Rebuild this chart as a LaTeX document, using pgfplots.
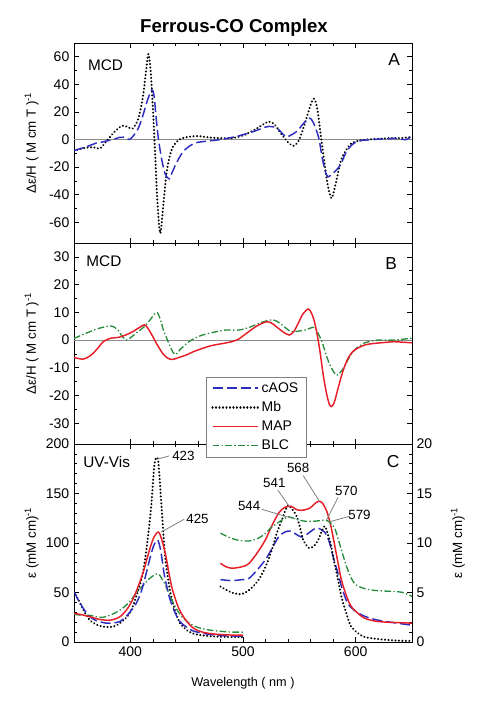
\documentclass[border=0pt]{standalone}
\usepackage{fontspec}
\setmainfont{Liberation Sans}
\usepackage{pgfplots}
\pgfplotsset{compat=1.18}
\definecolor{caos}{RGB}{45,45,190}
\definecolor{mapc}{RGB}{230,30,40}
\definecolor{blc}{RGB}{40,140,60}
\definecolor{zl}{RGB}{140,140,140}
\pgfplotsset{
  panel/.style={scale only axis, width=253.5pt, xmin=350, xmax=650,
    xtick={400,500,600}, minor x tick num=4,
    tick style={black, line width=0.5pt}, major tick length=4pt, minor tick length=2.5pt,
    /pgf/number format/assume math mode=true,
    tick label style={font=\fontsize{10.5}{12}\selectfont},
    label style={font=\fontsize{9.5}{11}\selectfont},
    axis line style={line width=0.6pt},
    every axis y label/.style={at={(axis description cs:-0.125,0.5)},rotate=90,anchor=center},
  },
}
\tikzset{
  caosS/.style={caos, line width=1.1pt, dash pattern=on 7.5pt off 3pt, smooth},
  mbS/.style={black, line width=1.7pt, dash pattern=on 0.01pt off 2.6pt, line cap=round, smooth},
  mapS/.style={mapc, line width=1.1pt, smooth},
  blcS/.style={blc, line width=1pt, dash pattern=on 5pt off 1.8pt on 1pt off 1.8pt, smooth},
  ann/.style={font=\fontsize{10}{12}\selectfont, inner sep=0pt},
  annl/.style={gray, line width=0.6pt},
  plab/.style={font=\fontsize{11.5}{13}\selectfont, inner sep=0pt},
  pletter/.style={font=\fontsize{13}{15}\selectfont, inner sep=0pt},
}
\begin{document}
\begin{tikzpicture}
\useasboundingbox (0,0) rectangle (358.5pt,528pt);
\node[font=\bfseries\fontsize{14}{16}\selectfont] at (175.5pt,507.5pt) {Ferrous-CO Complex};
% ---------------- Panel A
\begin{axis}[panel, at={(55.5pt,345.75pt)}, anchor=south west, height=150pt,
  ymin=-75, ymax=70, ytick={-60,-40,-20,0,20,40,60}, minor y tick num=1,
  xticklabel=\empty,
  ylabel={Δε/H ( M cm T )\textsuperscript{-1}}]
\addplot[zl, line width=0.6pt] coordinates {(350,0) (650,0)};
\addplot[mbS] coordinates {
(350,-8) (360,-6) (367,-5.5) (373,-6.5) (380,0) (387,6.5) (393,10) (398,9) (402,8)
(407,15) (411,30) (414,50) (416,62) (418,50) (420,23) (422,-10) (424,-45) (426.5,-68)
(429,-50) (432,-25) (435,-12) (438,-5) (442,-1) (446,1) (452,2) (460,2.5) (470,1.5)
(480,1) (490,1) (500,3) (510,7) (518,11) (523,13) (528,11) (534,4) (540,-2) (545,-4.5)
(550,0) (555,12) (560,25) (563,29.6) (566,22) (569.5,0) (572,-15) (575,-32) (578.5,-42.5)
(582,-33) (587,-15) (592,-7) (596,-3) (602,-1) (610,0) (620,0.5) (630,1) (640,1) (650,2)};
\addplot[caosS] coordinates {
(350,-8) (358,-6) (365,-4) (370,-2.5) (374,-2) (379,-1) (385,0) (390,1.5) (394,1.7)
(399,0) (403,3) (407,8) (411,17) (415,28) (419,36) (421,32) (423,15) (425,0) (428,-15)
(431,-25) (434.5,-28.5) (437,-24) (440.5,-17.7) (445,-11) (449,-7) (455,-3.5) (460,-2)
(470,-1) (480,0) (490,1.5) (500,3.5) (510,6) (518,8.5) (523,9.5) (528,9) (532,7)
(538,2) (542,3) (548,6) (553,11) (558.8,15.5) (562,13) (565,7) (567.6,0) (570,-12)
(573,-23) (575.5,-27) (579,-25) (583,-22) (587,-17.7) (591,-10) (596,-4.4) (600,-2)
(605,-0.7) (615,0) (625,0.5) (635,0.8) (645,0) (650,3)};
\node[plab, anchor=west] at (axis description cs:0.041,0.89) {MCD};
\node[pletter] at (axis description cs:0.947,0.915) {A};
\end{axis}
% ---------------- Panel B
\begin{axis}[panel, at={(55.5pt,195pt)}, anchor=south west, height=150.75pt,
  ymin=-37.5, ymax=35, ytick={-30,-20,-10,0,10,20,30}, minor y tick num=1,
  xticklabel=\empty,
  ylabel={Δε/H ( M cm T )\textsuperscript{-1}}]
\addplot[zl, line width=0.6pt] coordinates {(350,0) (650,0)};
\addplot[blcS] coordinates {
(350,0.6) (357,1.8) (364,3) (372,4.2) (381.7,5.1) (386,4.6) (389,3.6) (393,1.2) (396.4,0)
(400,0.8) (405,2.4) (410,4) (414,5.5) (418,7.5) (421,9.2) (424,9.9) (427,7) (429,4)
(431.7,1.2) (435,-2) (438,-4.5) (440.5,-5.2) (444,-3.5) (448,-2) (452,-0.6) (458,0.8)
(464,1.8) (474,2.8) (484.5,3.6) (496,3.6) (505,4.5) (514,6) (520,6.8) (525.6,7.3)
(530,6.8) (534.4,5.5) (539,4) (543,3) (549,3.2) (555,3.6) (562,4.6) (564.5,4.3)
(566.7,2.4) (569.6,0) (572,-3) (575.5,-7.3) (579,-10.5) (583,-12.7) (586,-11.8)
(590,-9.7) (594,-6.5) (599,-3.6) (604,-2) (608,-1) (614,-0.4) (619.6,0) (635,0) (648,0.6) (650,0.5)};
\addplot[mapS] coordinates {
(350,-6.3) (358,-6.9) (363,-6) (367,-4.8) (372,-2.5) (376,-0.6) (382,0.6) (390,1) (397,2)
(402,3) (408,4.5) (412.6,5.5) (416,4) (420,1.2) (424,-1.8) (428.7,-4.8) (433,-6.5)
(437.5,-7) (443,-6.3) (449,-5.5) (456,-4.2) (464,-3) (472,-2) (478.6,-1.5) (490,-0.6)
(496,0.3) (500,1.5) (505,3) (512,5) (520,6.5) (525,6.2) (531.5,4.2) (536,2.8) (541,1.8)
(545,3) (549,6) (553,9.3) (558,11.2) (561,9.5) (563.8,6) (566.7,0) (569,-6) (571,-12)
(574,-19) (576.5,-23) (578.5,-24) (581,-22.5) (584,-18) (587,-13.5) (590,-9.7) (594,-6)
(599,-3.6) (608,-1.8) (615,-1.3) (622.5,-1) (634,-0.6) (642,-0.8) (650,-1)};
\node[plab, anchor=west] at (axis description cs:0.036,0.907) {MCD};
\node[pletter] at (axis description cs:0.938,0.90) {B};
\end{axis}
% ---------------- Panel C (left axis)
\begin{axis}[panel, at={(55.5pt,46.5pt)}, anchor=south west, height=148.5pt,
  ymin=0, ymax=200, ytick={0,50,100,150,200}, minor y tick num=4, ytick pos=left,
  xlabel={Wavelength ( nm )},
  xlabel style={at={(axis description cs:0.5,-0.207)}, anchor=center},
  ylabel={ε (mM cm)\textsuperscript{-1}}]
\addplot[mbS] coordinates {
(350,51) (355,40) (360,29) (364,22) (370,17.5) (376,15.5) (384.6,15.5) (392,20) (399.3,29)
(405,45) (411,69) (415,100) (418.5,136.7) (421,175) (422.5,185) (424.5,185) (426,165)
(428.7,120) (431,85) (434.6,56) (438,38) (443.4,20.5) (449,13) (455,8.8) (465,6.5)
(478.6,5.4) (490,5) (500,5)};
\addplot[blcS] coordinates {
(350,28) (357,27) (364,27) (370,25.5) (376,25) (383,27.5) (390.5,32) (398,39) (405,49)
(412,58) (418,65) (424.3,69) (428,64) (431.7,56) (437,42) (443.4,29) (450,21) (458,15.5)
(468,12.5) (478.6,11) (490,10) (500,10)};
\addplot[caosS] coordinates {
(350,51) (355,40) (360,31) (364,25.6) (370,21.5) (378.8,19) (384,19.5) (390.5,20.5) (398,28)
(405.2,39) (410,52) (414,69) (418,87) (421,98) (424.3,103) (427,92) (430,69) (434,48)
(437.5,35.6) (443,22) (449.3,15.5) (455,11.5) (464,8.8) (475,7) (490,6) (500,6)};
\addplot[mapS] coordinates {
(350,29) (357,27.5) (364,25.6) (372,23) (381.7,22) (390,25) (396.4,32) (403,45) (411,69)
(417,93) (421,106) (425,111) (428,103) (431.7,86) (434.5,68) (437.5,52.5) (443,34)
(449.3,22) (456,14) (464,10) (475,8) (490,7) (500,7)};
\draw[annl] (axis cs:425,185) -- (axis cs:434.6,188);
\node[ann, anchor=west] at (axis cs:437,188) {423};
\draw[annl] (axis cs:427.3,111) -- (axis cs:447.8,124);
\node[ann, anchor=west] at (axis cs:449.5,124) {425};
\node[plab, anchor=west] at (axis description cs:0.027,0.909) {UV-Vis};
\node[pletter] at (axis description cs:0.944,0.909) {C};
\end{axis}
% ---------------- Panel C (right axis)
\begin{axis}[panel, at={(55.5pt,46.5pt)}, anchor=south west, height=148.5pt,
  ymin=0, ymax=20, ytick={0,5,10,15,20}, minor y tick num=4,
  axis y line*=right, axis x line=none,
  every axis y label/.style={at={(axis description cs:1.136,0.5)},rotate=90,anchor=center},
  ylabel={ε (mM cm)\textsuperscript{-1}},
  legend style={at={(axis description cs:0.39,1.34)}, anchor=north west, draw=gray,
    fill=white, font=\fontsize{10.5}{12}\selectfont, row sep=1.5pt,
    inner xsep=4pt, inner ysep=2pt},
  legend cell align=left,
  legend image code/.code={\draw[#1, sharp plot] (0pt,0pt) -- (34pt,0pt);}]
\addplot[caosS] coordinates {
(480,6.3) (490,6.2) (499,6.3) (505,6.4) (512,7.2) (519.8,8.3) (525,9.3) (531.5,10.6)
(537,11.1) (541.8,11.2) (547,10.9) (552,10.6) (557,10.9) (563,11.4) (566.7,11.5) (570,11.3)
(572.6,11.1) (576,10.3) (578.5,9.3) (581,8.2) (584.4,6.9) (588,5.4) (593,3.9) (600,3.1)
(608,2.6) (618,2.25) (628,2.05) (640,1.85) (650,1.7)};
\addlegendentry{cAOS}
\addplot[mbS] coordinates {
(480,5.6) (490,5) (499,4.85) (507,5.4) (514,6.3) (520,7.6) (525.6,9.3) (530,11) (534.4,12.3)
(538,13.4) (540.3,13.8) (543,13.5) (547.6,12.7) (551,11.4) (553.5,10.3) (558.5,9.5)
(563,9.7) (566.7,10.3) (570,11.2) (572.6,11.7) (575,11) (578,9.8) (580,8.6) (584,6.5)
(587.3,4.6) (592,2.8) (596,1.55) (602,0.9) (608,0.5) (620,0.3) (635,0.15) (650,0.1)};
\addlegendentry{Mb}
\addplot[mapS] coordinates {
(480,7.95) (485,7.6) (490.4,7.45) (499,7.6) (505,7.9) (512,8.9) (519.8,10.3) (525,11.6)
(531.5,13) (537,13.6) (543,13.7) (547,13.4) (552,13.3) (559,13.5) (563,13.9) (566.7,14.2)
(570,14.1) (574,13.3) (577,12.2) (580,10.6) (584,8.2) (587.3,6.3) (592,4.6) (596,3.6)
(602,2.9) (608,2.4) (618,2.1) (628,2) (640,1.95) (650,1.9)};
\addlegendentry{MAP}
\addplot[blcS] coordinates {
(480,11) (487,10.6) (495,10.3) (505,10.2) (514,10.5) (520,11) (525.6,11.6) (533,12.2)
(540.3,12.65) (547,12.4) (555,12.2) (563,12.2) (572.6,12.3) (577,12.1) (581.4,11.5)
(585,10.2) (590,8.3) (594,7) (599,5.9) (605,5.5) (613.7,5.25) (625,5.15) (634.3,5.1)
(642,5) (650,4.6)};
\addlegendentry{BLC}
\draw[annl] (axis cs:530.9,15.35) -- (axis cs:541,13.7);
\node[ann] at (axis cs:527.8,16.1) {541};
\draw[annl] (axis cs:516.8,13.4) -- (axis cs:543.2,12.5);
\node[ann] at (axis cs:505.5,13.7) {544};
\draw[annl] (axis cs:553.5,16.8) -- (axis cs:567.6,14.25);
\node[ann] at (axis cs:549,17.55) {568};
\draw[annl] (axis cs:584.4,14.6) -- (axis cs:574,12.3);
\node[ann] at (axis cs:591.7,15.3) {570};
\draw[annl] (axis cs:594.6,12.7) -- (axis cs:577,12.15);
\node[ann] at (axis cs:603.4,12.8) {579};
\end{axis}
\end{tikzpicture}
\end{document}
